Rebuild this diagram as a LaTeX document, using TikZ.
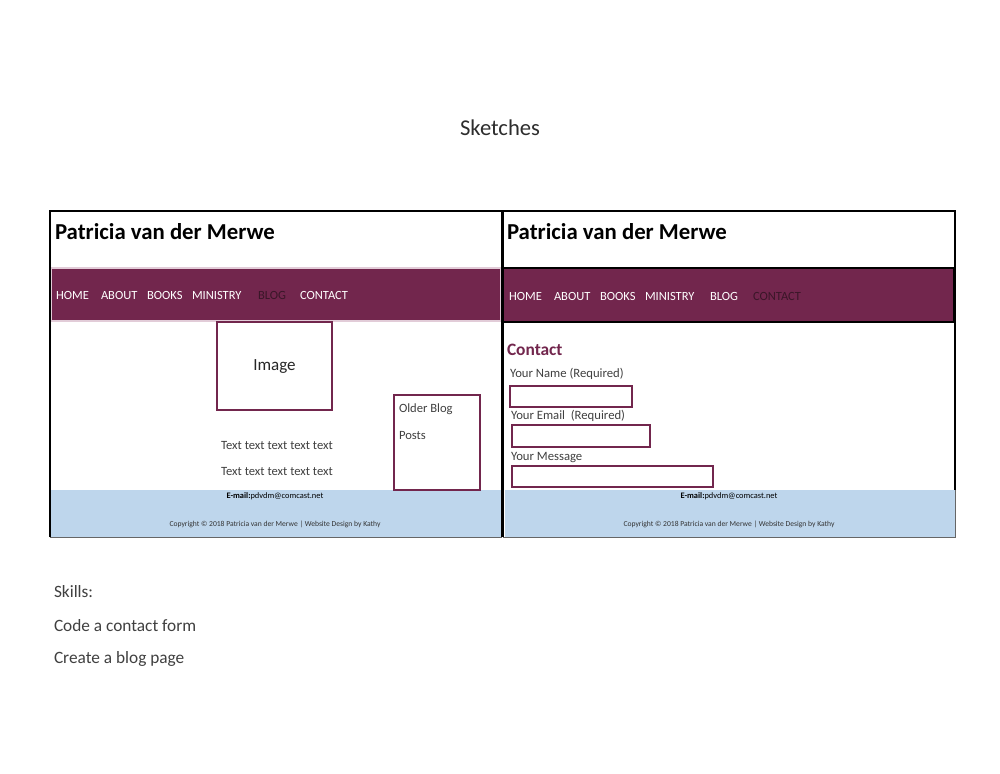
\documentclass[tikz,border=0pt]{standalone}
\usepackage{fontspec}
\setmainfont{Carlito}
\definecolor{plum}{RGB}{114,38,77}
\definecolor{darkplum}{RGB}{58,22,40}
\definecolor{footblue}{RGB}{190,214,236}
\definecolor{txtgray}{RGB}{64,64,64}
\definecolor{pinkedge}{RGB}{226,204,216}
\tikzset{
  every node/.style={inner sep=0pt, outer sep=0pt},
  navitem/.style={anchor=west, text=white, font=\fontsize{12.5}{14}\selectfont},
  navcur/.style={anchor=west, text=darkplum, font=\fontsize{12.5}{14}\selectfont},
  sitetitle/.style={anchor=west, font=\fontsize{22.8}{26}\selectfont\bfseries},
  bodytxt/.style={text=txtgray, font=\fontsize{12.6}{15}\selectfont},
  formlbl/.style={anchor=west, text=txtgray, font=\fontsize{12.7}{15}\selectfont},
  plumbox/.style={draw=plum, line width=2pt},
  mailtxt/.style={font=\fontsize{8.4}{10}\selectfont},
  copytxt/.style={font=\fontsize{7.6}{9}\selectfont, text=txtgray!80!black},
  skilltxt/.style={anchor=west, text=txtgray, font=\fontsize{17.3}{20}\selectfont},
}
\begin{document}
\begin{tikzpicture}[x=1pt,y=-1pt]
\useasboundingbox (0,0) rectangle (1000,773);
\fill[white] (0,0) rectangle (1000,773);

\node (title) at (500,128) [font=\fontsize{22.6}{26}\selectfont, text=txtgray!70!black] {Sketches};

% ---------- left panel ----------
\fill[footblue] (50,490) rectangle (501,537);
\fill[plum] (51,268) rectangle (501,321);
\draw[pinkedge, line width=1.5pt] (51,268) rectangle (501,321);
\draw[black, line width=1.6pt] (50,537) -- (50,211) -- (502,211) -- (502,537);
\draw[gray!80!black, line width=0.8pt] (50,537) -- (502,537);

\node[sitetitle] (ltitle) at (55,232) {Patricia van der Merwe};
\node[navitem] (lhome) at (56,295.5) {HOME};
\node[navitem] (labout) at (101,295.5) {ABOUT};
\node[navitem] (lbooks) at (147,295.5) {BOOKS};
\node[navitem] (lmin) at (192,295.5) {MINISTRY};
\node[navcur] (lblog) at (258,295.5) {BLOG};
\node[navitem] (lcontact) at (300,295.5) {CONTACT};

\draw[plumbox] (217,322) rectangle (332,410);
\node (image) at (274.5,367) [text=black!85, font=\fontsize{17}{20}\selectfont] {Image};
\draw[plumbox] (394,395) rectangle (480,490);
\node[bodytxt, anchor=west] (older) at (399,409) {Older Blog};
\node[bodytxt, anchor=west] (posts) at (399,435) {Posts};
\node[bodytxt] (t1) at (277,445) {Text text text text text};
\node[bodytxt] (t2) at (277,471) {Text text text text text};

\node[mailtxt] (lmail) at (275,496) {\textbf{E-mail:}pdvdm@comcast.net};
\node[copytxt] (lcopy) at (275,524.5) {Copyright \textcopyright\ 2018 Patricia van der Merwe | Website Design by Kathy};

% ---------- right panel ----------
\fill[footblue] (505,490) rectangle (955,537);
\fill[plum] (503,268) rectangle (954,322);
\draw[black, line width=2pt] (503,268) rectangle (954,322);
\draw[black, line width=1.6pt] (503,537) -- (503,211) -- (955,211) -- (955,490);
\draw[gray!80!black, line width=0.8pt] (955,490) -- (955,537) -- (503,537);

\node[sitetitle] (rtitle) at (507,232) {Patricia van der Merwe};
\node[navitem] (rhome) at (509,296.5) {HOME};
\node[navitem] (rabout) at (554,296.5) {ABOUT};
\node[navitem] (rbooks) at (600,296.5) {BOOKS};
\node[navitem] (rmin) at (645,296.5) {MINISTRY};
\node[navitem] (rblog) at (710,296.5) {BLOG};
\node[navcur] (rcontact) at (753,296.5) {CONTACT};

\node (contact) at (507,350) [anchor=west, text=plum, font=\fontsize{17.4}{20}\selectfont\bfseries] {Contact};
\node[formlbl] (lname) at (510,374) {Your Name (Required)};
\draw[plumbox] (510,386) rectangle (632,407);
\node[formlbl] (lemail) at (511,416) {Your Email\ \ (Required)};
\draw[plumbox] (512,425) rectangle (650,447);
\node[formlbl] (lmsg) at (511,458) {Your Message};
\draw[plumbox] (512,466) rectangle (713,487);

\node[mailtxt] (rmail) at (729,496) {\textbf{E-mail:}pdvdm@comcast.net};
\node[copytxt] (rcopy) at (729,524.5) {Copyright \textcopyright\ 2018 Patricia van der Merwe | Website Design by Kathy};

% ---------- skills ----------
\node[skilltxt] (skills) at (54,592) {Skills:};
\node[skilltxt] (s1) at (54,626) {Code a contact form};
\node[skilltxt] (s2) at (54,659) {Create a blog page};
\end{tikzpicture}
\end{document}
